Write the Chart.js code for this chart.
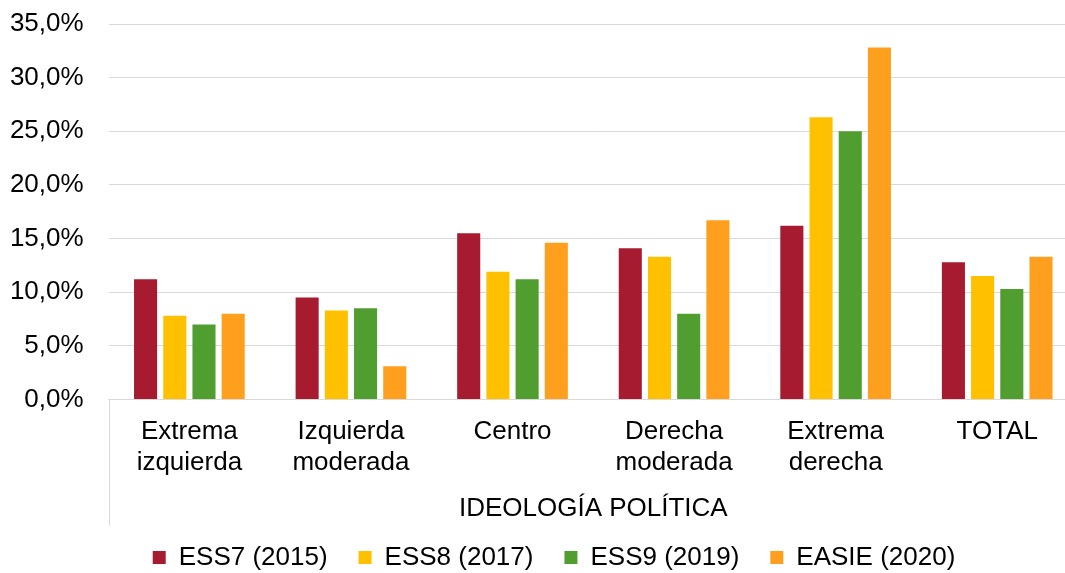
<!DOCTYPE html>
<html>
<head>
<meta charset="utf-8">
<script src="https://cdn.jsdelivr.net/npm/chart.js@4.4.1/dist/chart.umd.min.js"></script>
<style>
  html, body { margin: 0; padding: 0; background: #ffffff; overflow: hidden; }
  #wrap { width: 1078px; height: 573px; position: relative; }
</style>
</head>
<body>
<div id="wrap"><canvas id="c"></canvas></div>
<script>
const categories = [
  ['Extrema', 'izquierda'],
  ['Izquierda', 'moderada'],
  ['Centro'],
  ['Derecha', 'moderada'],
  ['Extrema', 'derecha'],
  ['TOTAL']
];
const seriesNames = ['ESS7 (2015)', 'ESS8 (2017)', 'ESS9 (2019)', 'EASIE (2020)'];
const ess7  = [11.2, 9.5, 15.5, 14.1, 16.2, 12.8];
const ess8  = [7.8, 8.3, 11.9, 13.3, 26.3, 11.5];
const ess9  = [7.0, 8.5, 11.2, 8.0, 25.0, 10.3];
const easie = [8.0, 3.1, 14.6, 16.7, 32.8, 13.3];
const yTicks = [0, 5, 10, 15, 20, 25, 30, 35];
const xAxisTitle = 'IDEOLOGÍA POLÍTICA';
const colors = ['#A61B2F', '#FFC000', '#509E2F', '#FF9F1E'];

const FONT = 'Arial, "Liberation Sans", sans-serif';
const FS = 26;

const leftLine = {
  id: 'leftLine',
  afterLayout(chart) {
    if (chart.legend) { chart.legend.left += 30; }
  },
  afterDraw(chart) {
    const x = chart.scales.x;
    const ctx = chart.ctx;
    ctx.save();
    ctx.strokeStyle = '#D9D9D9';
    ctx.lineWidth = 1;
    ctx.beginPath();
    ctx.moveTo(Math.round(x.left) + 0.5, chart.chartArea.bottom);
    ctx.lineTo(Math.round(x.left) + 0.5, 526);
    ctx.stroke();
    ctx.restore();
  }
};

const data = {
  labels: categories,
  datasets: [ess7, ess8, ess9, easie].map((vals, i) => ({
    label: seriesNames[i],
    data: vals,
    backgroundColor: colors[i],
    borderWidth: 0,
    barPercentage: 0.79,
    categoryPercentage: 0.723
  }))
};

new Chart(document.getElementById('c'), {
  type: 'bar',
  data,
  plugins: [leftLine],
  options: {
    responsive: true,
    maintainAspectRatio: false,
    animation: false,
    layout: { padding: { left: 0, right: 0, top: 24, bottom: -7.5 } },
    plugins: {
      legend: {
        position: 'bottom',
        labels: {
          font: { family: FONT, size: FS },
          color: '#000000',
          boxWidth: 13,
          boxHeight: 13,
          padding: 31
        }
      },
      tooltip: { enabled: false }
    },
    scales: {
      x: {
        grid: { display: false, drawTicks: false },
        border: { display: true, color: '#D9D9D9', width: 1 },
        ticks: {
          font: { family: FONT, size: FS },
          color: '#000000',
          padding: 17,
          maxRotation: 0,
          autoSkip: false
        },
        title: {
          display: true,
          text: xAxisTitle,
          font: { family: FONT, size: FS },
          color: '#000000',
          padding: { top: -3, bottom: -10.6 }
        }
      },
      y: {
        min: 0,
        max: 35,
        afterBuildTicks(scale) { scale.ticks = yTicks.map(v => ({ value: v })); },
        afterFit(scale) { scale.width = 108.6; },
        grid: { color: '#D9D9D9', lineWidth: 1, drawTicks: true, tickLength: 25, tickColor: 'rgba(0,0,0,0)' },
        border: { display: false },
        ticks: {
          font: { family: FONT, size: FS },
          color: '#000000',
          padding: 0,
          callback: v => v.toFixed(1).replace('.', ',') + '%'
        }
      }
    }
  }
});
</script>
</body>
</html>
